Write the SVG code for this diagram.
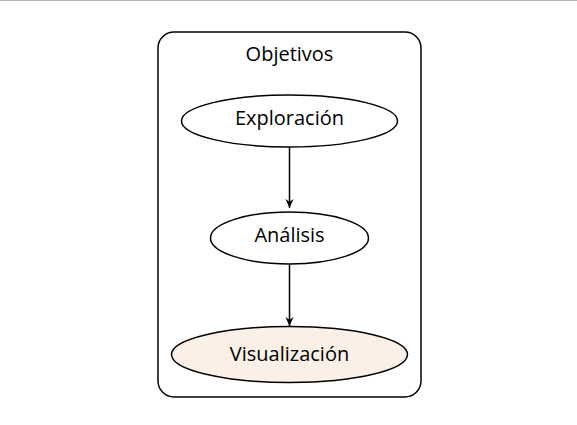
<svg xmlns="http://www.w3.org/2000/svg" width="577" height="425" viewBox="0 0 577 425">
<style>
.n{stroke:#000;stroke-width:1.5}
.t{font-family:"Open Sans","Noto Sans",sans-serif;font-size:20px;fill:#000;text-anchor:middle}
.e{stroke:#000;stroke-width:1.5;fill:none}
</style>
<defs>
<marker id="a" viewBox="0 0 10 10" refX="10" refY="5" markerWidth="10" markerHeight="9" markerUnits="userSpaceOnUse" orient="auto">
<path d="M0,0.5 L10,5 L0,9.5 L3,5 Z" fill="#000"/>
</marker>
</defs>
<rect width="577" height="425" fill="#fff"/>
<line x1="0" y1="0.5" x2="577" y2="0.5" stroke="#b4b4b4"/>
<g id="cluster_objetivos">
<rect x="158" y="32" width="263" height="365" rx="16" fill="none" class="n"/>
<text class="t" x="289.5" y="61">Objetivos</text>
</g>
<g id="connectors">
<line class="e" x1="289.5" y1="147" x2="289.5" y2="208" marker-end="url(#a)"/>
<line class="e" x1="289.5" y1="264" x2="289.5" y2="326" marker-end="url(#a)"/>
</g>
<g id="exploracion">
<ellipse cx="289.5" cy="121" rx="108" ry="26" fill="#fff" class="n"/>
<text class="t" x="289.5" y="125">Exploración</text>
</g>
<g id="analisis">
<ellipse cx="289.5" cy="238" rx="79" ry="26" fill="#fff" class="n"/>
<text class="t" x="289.5" y="242">Análisis</text>
</g>
<g id="visualizacion">
<ellipse cx="289.5" cy="354.5" rx="118" ry="28" fill="#faf0e6" class="n"/>
<text class="t" x="289.5" y="361">Visualización</text>
</g>
</svg>
